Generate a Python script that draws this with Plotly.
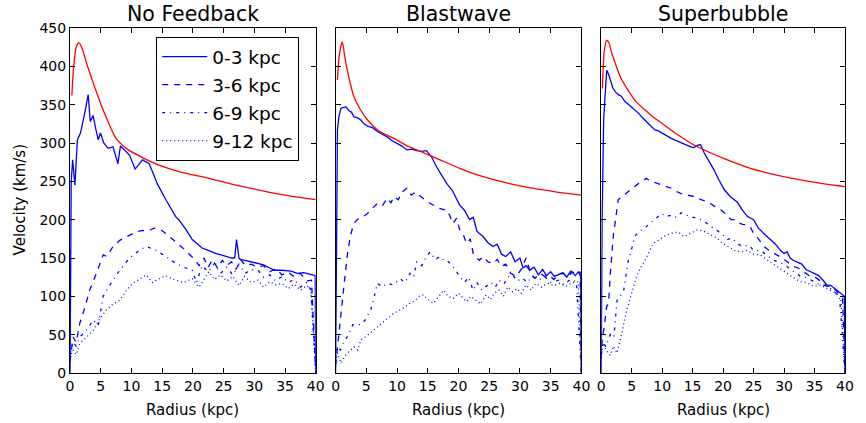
import plotly.graph_objects as go
from plotly.subplots import make_subplots

panel_titles = ["No Feedback", "Blastwave", "Superbubble"]
series_names = ["0-3 kpc", "3-6 kpc", "6-9 kpc", "9-12 kpc"]
x_ticks = [0, 5, 10, 15, 20, 25, 30, 35, 40]
y_ticks = [0, 50, 100, 150, 200, 250, 300, 350, 400, 450]

# ---------------- No Feedback ----------------
red_r_nf = [0.3, 0.6, 1.0, 1.45, 2.0, 2.7, 3.8, 5.4, 7.5, 9.5, 11.8, 14.5, 18, 22.6, 26, 30.6, 35, 40]
red_v_nf = [362, 400, 425, 431, 423, 404, 378, 343, 306, 291, 281, 271, 262, 254, 247, 239, 232, 226]

s03_r_nf = [0, 0.2, 0.43, 0.8, 1.2, 1.7, 2.3, 2.96, 3.3, 3.76, 4.2, 4.6, 4.95, 5.5, 6.2, 7.0, 7.8, 8.2, 9.0, 9.7, 10.6, 11.8, 12.9, 14.2, 15.6, 17.2, 17.7, 18.8, 19.9, 21.5, 22.5, 23.7, 25, 26.3, 26.8, 27.1, 27.5, 27.7, 28.5, 29.5, 30.6, 31.5, 32.5, 33.3, 34.5, 36, 37, 38, 39.5, 39.9, 40]
s03_v_nf = [0, 250, 278, 245, 304, 313, 335, 363, 328, 336, 318, 304, 313, 300, 293, 295, 273, 296, 290, 284, 266, 278, 273, 247, 226, 204, 200, 188, 174, 163, 160, 156, 153, 150, 150, 174, 150, 148, 147, 145, 143, 141, 137, 134, 134, 133, 130, 131, 128, 127, 0]

s36_r_nf = [0, 0.5, 1.0, 1.6, 2.4, 3.2, 4.3, 5.4, 6.0, 7.0, 8.1, 9.7, 10.7, 11.8, 12.7, 13.7, 14.7, 15.6, 17.2, 18.8, 20.4, 21.0, 21.8, 22.5, 23.2, 24, 24.8, 25.5, 26.3, 27, 27.8, 28.5, 29.5, 30.5, 31.5, 32.5, 33.5, 34.5, 35.5, 36.5, 37.5, 38.5, 39.3, 40]
s36_v_nf = [15, 47, 40, 65, 85, 108, 130, 154, 152, 165, 173, 180, 184, 186, 185, 189, 187, 182, 171, 160, 147, 140, 150, 138, 148, 137, 147, 140, 145, 135, 148, 140, 142, 138, 140, 132, 136, 128, 132, 125, 130, 120, 121, 0]

s69_r_nf = [0, 0.5, 1.0, 1.6, 2.6, 3.8, 4.6, 5.4, 6.5, 8.1, 9.7, 11.3, 12.4, 14.0, 15.6, 17.2, 18.5, 19.9, 20.6, 21.5, 22.5, 23.5, 24.5, 25.5, 26.5, 27.5, 28.5, 29.5, 30.6, 31.5, 32.5, 33.5, 34.5, 35.5, 36.5, 37.5, 38.5, 39.2, 40]
s69_v_nf = [25, 40, 35, 47, 55, 69, 62, 100, 115, 134, 150, 160, 165, 160, 152, 143, 138, 134, 118, 140, 132, 143, 130, 138, 128, 142, 130, 135, 134, 125, 128, 120, 126, 118, 122, 112, 118, 108, 0]

s912_r_nf = [0, 0.5, 1.0, 1.6, 2.5, 3.8, 4.8, 5.9, 7.0, 8.1, 9.2, 10.2, 11.3, 12.4, 13.4, 14.5, 15.5, 17.2, 18.5, 19.9, 21, 22.6, 23.5, 24.5, 25.5, 26.5, 27.5, 28.4, 29.5, 30.6, 31.5, 32.5, 33.5, 34.5, 35.5, 36.5, 37.5, 38.5, 39.2, 40]
s912_v_nf = [20, 30, 24, 39, 45, 56, 70, 82, 90, 95, 108, 117, 122, 128, 118, 123, 127, 121, 118, 123, 112, 132, 122, 128, 120, 126, 114, 126, 118, 121, 112, 119, 115, 117, 110, 116, 108, 114, 110, 0]

# ---------------- Blastwave ----------------
red_r_bw = [0.3, 0.6, 1.1, 1.5, 1.9, 2.4, 3.0, 4.0, 5.2, 7.0, 9.5, 11.5, 13.8, 17, 20.2, 24, 28.3, 32, 36, 40]
red_v_bw = [382, 415, 432, 412, 395, 377, 360, 344, 330, 316, 306, 297, 289, 278, 267, 256, 247, 241, 236, 232]

s03_r_bw = [0, 0.15, 0.3, 0.55, 0.86, 1.2, 1.7, 2.2, 2.6, 3.0, 3.5, 4.1, 4.6, 5.2, 6.0, 6.8, 7.6, 8.4, 9.2, 10, 10.8, 11.6, 12.4, 13.2, 14.0, 14.8, 15.6, 16.5, 17.3, 18.1, 19.0, 20.2, 21.0, 21.8, 22.4, 23.0, 23.4, 24.0, 24.8, 25.6, 26.3, 27.0, 27.7, 28.5, 29.2, 30.0, 30.5, 31.0, 31.6, 32.3, 33.0, 33.7, 34.3, 35.0, 35.6, 36.3, 37.0, 37.6, 38.3, 39.0, 39.5, 39.9, 40]
s03_v_bw = [0, 200, 317, 335, 345, 346, 347, 342, 340, 334, 333, 330, 325, 322, 320, 315, 312, 308, 303, 300, 296, 291, 292, 290, 289, 290, 282, 268, 258, 247, 238, 219, 212, 200, 203, 185, 182, 178, 170, 165, 168, 155, 152, 158, 145, 150, 137, 140, 134, 138, 128, 135, 127, 132, 126, 128, 131, 125, 133, 127, 132, 126, 0]

s36_r_bw = [0, 0.2, 0.5, 0.9, 1.4, 2.0, 2.5, 3.0, 3.5, 4.3, 5.2, 6.0, 6.8, 7.6, 8.4, 9.0, 9.5, 10.2, 10.8, 11.6, 12.3, 13.0, 13.8, 14.5, 15.2, 15.9, 16.8, 17.6, 18.1, 18.6, 19.1, 19.7, 20.2, 20.8, 21.3, 21.9, 22.4, 23.0, 23.4, 24.0, 24.8, 25.6, 26.3, 27.0, 27.7, 28.5, 29.4, 30.2, 31.0, 31.8, 32.5, 33.3, 34.0, 34.8, 35.5, 36.3, 37.0, 37.8, 38.5, 39.2, 39.8, 40]
s36_v_bw = [10, 26, 52, 75, 117, 160, 182, 195, 200, 203, 208, 215, 221, 218, 228, 222, 230, 226, 236, 241, 232, 236, 230, 226, 222, 219, 215, 213, 213, 205, 195, 202, 187, 180, 169, 175, 156, 150, 147, 152, 145, 143, 148, 139, 142, 130, 126, 135, 150, 128, 124, 130, 126, 128, 122, 128, 130, 125, 132, 128, 132, 0]

s69_r_bw = [0, 0.2, 0.8, 1.4, 1.9, 2.4, 2.8, 3.4, 4.1, 4.9, 5.7, 6.3, 6.8, 7.6, 8.4, 9.4, 10.5, 11.3, 12.1, 12.7, 13.2, 14.0, 14.8, 15.4, 16.2, 17.0, 17.6, 18.1, 19.0, 20.2, 21.0, 21.6, 22.4, 23.0, 23.8, 24.5, 25.3, 26.0, 26.6, 27.4, 28.0, 28.8, 29.6, 30.4, 31.2, 32.0, 33.0, 34.0, 35.0, 36.3, 37.2, 38.2, 39.2, 40]
s69_v_bw = [20, 34, 30, 42, 47, 55, 63, 63, 63, 70, 82, 100, 117, 112, 117, 115, 123, 118, 130, 125, 145, 140, 152, 158, 148, 152, 147, 147, 140, 126, 118, 125, 108, 118, 108, 113, 118, 112, 121, 116, 125, 128, 120, 124, 118, 126, 121, 126, 118, 121, 115, 122, 119, 0]

s912_r_bw = [0, 0.3, 0.9, 1.5, 2.2, 3.0, 3.6, 4.1, 5.0, 6.0, 6.8, 7.8, 8.6, 9.5, 10.5, 11.3, 12.1, 13.0, 13.6, 14.3, 15.0, 15.9, 16.8, 17.6, 18.3, 19.1, 20.0, 21.3, 22.0, 22.9, 23.6, 24.5, 25.2, 25.8, 26.6, 27.3, 28.0, 28.8, 29.5, 30.2, 31.0, 31.8, 32.6, 33.5, 34.5, 35.5, 36.5, 37.5, 38.5, 39.5, 40]
s912_v_bw = [15, 26, 13, 22, 28, 34, 30, 43, 48, 55, 60, 67, 72, 78, 82, 86, 91, 95, 100, 102, 96, 91, 100, 108, 100, 97, 104, 93, 100, 95, 90, 102, 96, 104, 108, 100, 112, 106, 110, 104, 115, 108, 117, 112, 117, 114, 117, 113, 118, 119, 0]

# ---------------- Superbubble ----------------
red_r_sb = [0.2, 0.5, 0.9, 1.3, 1.7, 2.3, 3.2, 4.4, 5.6, 7.2, 8.5, 9.9, 12.5, 15.3, 18, 20.7, 24.5, 28.8, 34, 40]
red_v_sb = [371, 420, 434, 430, 418, 404, 385, 369, 355, 343, 334, 326, 311, 297, 287, 278, 267, 258, 250, 243]

s03_r_sb = [0, 0.15, 0.4, 0.65, 0.9, 1.2, 1.5, 1.9, 2.3, 2.8, 3.3, 3.9, 4.4, 5.0, 5.6, 6.1, 6.9, 7.7, 8.2, 8.8, 9.3, 9.9, 10.7, 11.5, 12.3, 13.1, 13.9, 14.7, 15.2, 15.8, 16.3, 16.9, 17.7, 18.5, 19.3, 20.2, 21.2, 22.3, 23.2, 24.0, 25.0, 25.8, 26.8, 27.8, 28.6, 29.4, 30.0, 30.5, 31.0, 31.5, 32.2, 32.9, 33.6, 34.3, 35.0, 35.7, 36.4, 37.0, 37.7, 38.4, 39.1, 39.6, 39.9, 40]
s03_v_sb = [0, 200, 330, 370, 395, 390, 382, 372, 367, 363, 361, 354, 351, 347, 343, 339, 332, 326, 322, 317, 316, 313, 310, 306, 303, 300, 298, 295, 294, 297, 298, 287, 276, 265, 252, 239, 230, 223, 212, 204, 200, 189, 181, 174, 168, 160, 156, 158, 150, 147, 144, 142, 135, 132, 130, 127, 121, 115, 114, 110, 106, 102, 100, 0]

s36_r_sb = [0, 0.2, 0.5, 0.9, 1.2, 1.5, 2.0, 2.4, 2.8, 3.4, 4.4, 5.2, 6.1, 6.8, 7.4, 8.2, 9.3, 10.4, 11.5, 12.3, 13.1, 14.2, 15.3, 16.4, 17.5, 18.5, 19.6, 20.5, 21.3, 21.8, 22.5, 23.2, 24.0, 24.5, 25.0, 25.8, 26.7, 27.5, 28.2, 28.9, 29.7, 30.5, 31.5, 32.3, 33.2, 34.3, 35.1, 36.0, 37.0, 37.8, 38.5, 39.1, 39.6, 40]
s36_v_sb = [20, 47, 60, 87, 90, 130, 180, 205, 226, 230, 236, 242, 247, 250, 254, 250, 247, 244, 241, 237, 234, 232, 230, 226, 223, 218, 213, 207, 200, 200, 196, 194, 193, 190, 182, 175, 165, 160, 157, 154, 150, 145, 139, 137, 132, 126, 125, 120, 113, 114, 108, 102, 98, 0]

s69_r_sb = [0, 0.3, 0.8, 1.2, 1.6, 2.1, 2.6, 3.1, 3.7, 4.4, 5.0, 5.5, 6.1, 7.0, 7.7, 8.8, 9.9, 10.7, 11.5, 12.3, 13.1, 13.9, 14.7, 15.5, 16.4, 17.2, 18.0, 19.0, 20.0, 20.7, 21.5, 22.4, 23.4, 24.2, 25.0, 26.1, 27.0, 28.3, 29.4, 30.5, 31.5, 32.7, 33.8, 34.8, 35.9, 37.0, 38.0, 39.1, 40]
s69_v_sb = [25, 40, 34, 45, 52, 48, 95, 100, 108, 145, 162, 178, 184, 188, 193, 200, 208, 204, 206, 203, 209, 206, 204, 202, 200, 196, 191, 186, 180, 174, 176, 168, 165, 167, 160, 160, 155, 147, 144, 139, 133, 126, 124, 120, 115, 114, 108, 100, 0]

s912_r_sb = [0, 0.3, 0.8, 1.5, 2.0, 2.6, 3.0, 3.4, 3.8, 4.2, 5.0, 5.8, 6.5, 7.2, 8.0, 8.5, 9.2, 9.9, 10.7, 11.5, 12.6, 13.6, 14.6, 15.8, 16.8, 18.0, 19.0, 19.6, 20.7, 21.8, 23.0, 24.0, 25.0, 26.1, 27.5, 28.9, 29.7, 30.5, 31.6, 32.7, 33.7, 34.8, 36.0, 37.0, 38.1, 39.3, 40]
s912_v_sb = [20, 39, 30, 23, 35, 26, 40, 52, 68, 82, 104, 126, 138, 147, 160, 169, 172, 176, 180, 182, 184, 178, 182, 187, 185, 180, 176, 171, 165, 160, 158, 160, 155, 154, 146, 139, 134, 130, 124, 119, 118, 113, 115, 110, 106, 100, 0]

panels = [
    (red_r_nf, red_v_nf, [(s03_r_nf, s03_v_nf), (s36_r_nf, s36_v_nf), (s69_r_nf, s69_v_nf), (s912_r_nf, s912_v_nf)]),
    (red_r_bw, red_v_bw, [(s03_r_bw, s03_v_bw), (s36_r_bw, s36_v_bw), (s69_r_bw, s69_v_bw), (s912_r_bw, s912_v_bw)]),
    (red_r_sb, red_v_sb, [(s03_r_sb, s03_v_sb), (s36_r_sb, s36_v_sb), (s69_r_sb, s69_v_sb), (s912_r_sb, s912_v_sb)]),
]

dashes = ["solid", "6px,6px", "3px,5px,1px,5px", "1px,3px"]
BLUE = "#0000ff"
RED = "#ff0000"
FONT = "DejaVu Sans"
LW = 1.3

fig = make_subplots(rows=1, cols=3)

for i, (rr, rv, blues) in enumerate(panels):
    col = i + 1
    for j, (br, bv) in enumerate(blues):
        fig.add_trace(go.Scatter(
            x=br, y=bv, mode="lines", name=series_names[j],
            line=dict(color=BLUE, width=LW, dash=dashes[j]),
            showlegend=(i == 0), legendgroup=series_names[j],
        ), row=1, col=col)
    fig.add_trace(go.Scatter(
        x=rr, y=rv, mode="lines", line=dict(color=RED, width=LW, shape="spline", smoothing=0.6),
        showlegend=False,
    ), row=1, col=col)

W, H = 866, 423
ML, MR, MT, MB = 70, 14, 28, 50
PW = W - ML - MR
PH = H - MT - MB
px_domains = [(70, 318), (338, 586), (606, 852)]

axis_common = dict(
    showline=True, linecolor="black", linewidth=1, mirror="allticks",
    ticks="inside", ticklen=5, tickwidth=1, tickcolor="black",
    showgrid=False, zeroline=False,
    tickfont=dict(family=FONT, size=14, color="black"),
)

for i, (a, b) in enumerate(px_domains):
    xa = "xaxis" if i == 0 else f"xaxis{i+1}"
    ya = "yaxis" if i == 0 else f"yaxis{i+1}"
    fig.layout[xa].update(domain=[(a - ML) / PW, (b - ML) / PW], range=[0, 40],
                          tickvals=x_ticks, **axis_common)
    fig.layout[ya].update(domain=[0, 1], range=[0, 450], tickvals=y_ticks,
                          showticklabels=(i == 0), **axis_common)

annotations = []
for i, (a, b) in enumerate(px_domains):
    cx = ((a + b) / 2 - ML) / PW
    annotations.append(dict(text=panel_titles[i], x=cx, y=(PH + MT - 14) / PH,
                            xref="paper", yref="paper", xanchor="center", yanchor="middle",
                            showarrow=False, font=dict(family=FONT, size=20.5, color="black")))
    annotations.append(dict(text="Radius (kpc)", x=cx, y=-(410 - (MT + PH)) / PH,
                            xref="paper", yref="paper", xanchor="center", yanchor="middle",
                            showarrow=False, font=dict(family=FONT, size=15, color="black")))
annotations.append(dict(text="Velocity (km/s)", x=(20 - ML) / PW, y=(MT + PH - 200) / PH,
                        xref="paper", yref="paper", xanchor="center", yanchor="middle",
                        textangle=-90, showarrow=False,
                        font=dict(family=FONT, size=15, color="black")))

fig.update_layout(
    width=W, height=H,
    margin=dict(l=ML, r=MR, t=MT, b=MB, pad=0),
    paper_bgcolor="white", plot_bgcolor="white",
    annotations=annotations,
    showlegend=True,
    legend=dict(x=(157 - ML) / PW, y=(MT + PH - 37) / PH, xanchor="left", yanchor="top",
                bgcolor="white", bordercolor="black", borderwidth=1,
                font=dict(family=FONT, size=18.5, color="black"),
                tracegroupgap=1, itemwidth=45),
)

fig.write_html("out.html")
